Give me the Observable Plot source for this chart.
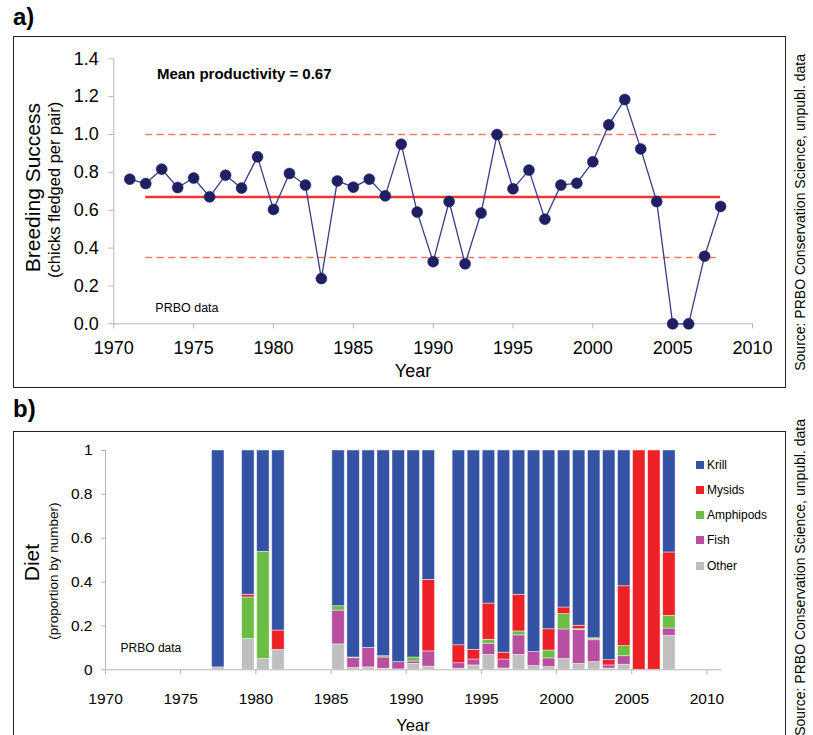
<!DOCTYPE html>
<html>
<head>
<meta charset="utf-8">
<script src="https://cdn.jsdelivr.net/npm/d3@7"></script>
<script src="https://cdn.jsdelivr.net/npm/@observablehq/plot@0.6"></script>
<style>
html, body { margin: 0; padding: 0; background: #fff; overflow: hidden; width: 813px; height: 735px; }
#root { position: relative; width: 813px; height: 735px; font-family: "Liberation Sans", Arial, sans-serif; color: #000; }
.box { position: absolute; border: 1px solid #222; box-sizing: border-box; }
.abs { position: absolute; white-space: nowrap; }
.plabel { position: absolute; font-family: "Liberation Sans Narrow", "Liberation Sans", Arial, sans-serif; font-weight: bold; font-size: 24px; }
.rot { position: absolute; text-align: center; white-space: nowrap; transform: rotate(-90deg); }
.legrow { position: absolute; font-size: 12px; line-height: 14px; white-space: nowrap; }
.legrow span.sw { display: inline-block; width: 8px; height: 8px; margin-right: 3px; vertical-align: 0px; }
svg { position: absolute; overflow: visible; }
</style>
</head>
<body>
<div id="root"></div>
<script>
// ---------- Panel a data: breeding success ----------
const successYears = [1971,1972,1973,1974,1975,1976,1977,1978,1979,1980,1981,1982,1983,1984,1985,1986,1987,1988,1989,1990,1991,1992,1993,1994,1995,1996,1997,1998,1999,2000,2001,2002,2003,2004,2005,2006,2007,2008];
const successValues = [0.764,0.741,0.817,0.720,0.770,0.671,0.785,0.717,0.882,0.604,0.794,0.733,0.239,0.755,0.722,0.764,0.676,0.949,0.590,0.328,0.646,0.317,0.585,1.000,0.713,0.812,0.553,0.733,0.743,0.856,1.051,1.185,0.924,0.646,0.0,0.0,0.357,0.620];
const meanValue = [0.67];
const limitValues = [1.0, 0.35];
const refSpan = [1972, 2008];
const xTicks = [1970,1975,1980,1985,1990,1995,2000,2005,2010];
const yTicksA = [0,0.2,0.4,0.6,0.8,1.0,1.2,1.4];
const meanText = ["Mean productivity = 0.67"];
const meanTextPos = [1972.7, 1.317];
const sourceNotePosA = [1972.6, 0.086];

// ---------- Panel b data: diet (proportion by number) ----------
const dietYears = [1977,1979,1980,1981,1985,1986,1987,1988,1989,1990,1991,1993,1994,1995,1996,1997,1998,1999,2000,2001,2002,2003,2004,2005,2006,2007];
const krill     = [0.989,0.658,0.462,0.821,0.710,0.944,0.900,0.938,0.965,0.944,0.590,0.888,0.909,0.698,0.922,0.658,0.919,0.815,0.716,0.799,0.856,0.956,0.619,0,0,0.465];
const mysids    = [0,0.012,0,0.088,0,0,0,0,0,0,0.326,0.082,0.044,0.165,0.031,0.167,0,0.097,0.030,0.016,0.003,0.024,0.273,1,1,0.289];
const amphipods = [0,0.190,0.489,0,0.020,0.003,0,0.006,0,0.018,0,0,0,0.018,0,0.018,0,0.036,0.070,0.004,0.006,0,0.046,0,0,0.058];
const fish      = [0,0,0,0,0.154,0.045,0.089,0.051,0.033,0.011,0.070,0.025,0.027,0.051,0.041,0.089,0.064,0.040,0.135,0.154,0.100,0.014,0.039,0,0,0.033];
const other     = [0.011,0.140,0.049,0.091,0.116,0.008,0.011,0.005,0.002,0.027,0.014,0.005,0.020,0.068,0.006,0.068,0.017,0.012,0.049,0.027,0.035,0.006,0.023,0,0,0.155];
const dietTypes  = ["Krill","Mysids","Amphipods","Fish","Other"];
const dietColors = ["#3553a4","#ee2127","#6abd45","#b84f9f","#bfbfbf"];
const yTicksB = [0,0.2,0.4,0.6,0.8,1];
const sourceNotePosB = [1971.0, 0.097];

// ---------- tables ----------
const successTable = successYears.map((year, i) => ({year, value: successValues[i]}));
const stackOrder = [["Other", other], ["Fish", fish], ["Amphipods", amphipods], ["Mysids", mysids], ["Krill", krill]];
const dietTable = [];
dietYears.forEach((year, i) => {
  for (const [type, arr] of stackOrder) dietTable.push({year, type, value: arr[i]});
});

const axisGray = "#b5b5b5";
const FONT = "Liberation Sans, Arial, sans-serif";
const root = document.getElementById("root");

function addDiv(cls, html, style) {
  const d = document.createElement("div");
  d.className = cls;
  d.innerHTML = html;
  Object.assign(d.style, style);
  root.appendChild(d);
  return d;
}
function rotText(text, cx, cy, size) {
  const w = 420, h = size * 1.2;
  return addDiv("rot", text, {left: (cx - w/2) + "px", top: (cy - h/2) + "px", width: w + "px", height: h + "px", lineHeight: h + "px", fontSize: size + "px"});
}

// panel labels and boxes
addDiv("plabel", "a)", {left: "13px", top: "3px"});
addDiv("plabel", "b)", {left: "13px", top: "395px"});
addDiv("box", "", {left: "13px", top: "36px", width: "773px", height: "352px"});
addDiv("box", "", {left: "13px", top: "431px", width: "773px", height: "330px"});

// ---------- Panel a ----------
const plotA = Plot.plot({
  width: 772, height: 352,
  marginLeft: 100.3, marginRight: 33, marginTop: 22.3, marginBottom: 64.7,
  style: {fontFamily: FONT, fontSize: "18px", background: "transparent", color: "#000", overflow: "visible"},
  x: {domain: [1970, 2010]},
  y: {domain: [0, 1.4]},
  marks: [
    Plot.ruleY([0], {x1: 1970, x2: 2010, stroke: axisGray, strokeWidth: 1}),
    Plot.ruleX([1970], {y1: 0, y2: 1.4, stroke: axisGray, strokeWidth: 1}),
    Plot.axisX({ticks: xTicks, tickFormat: d3.format("d"), tickSize: 5, tickPadding: 12, stroke: axisGray, fill: "#000", label: null, fontSize: 18}),
    Plot.axisY({ticks: yTicksA, tickFormat: d3.format(".1f"), tickSize: 5, tickPadding: 10, stroke: axisGray, fill: "#000", label: null, fontSize: 18}),
    Plot.ruleY(limitValues, {x1: refSpan[0], x2: refSpan[1], stroke: "#f57a62", strokeWidth: 1.6, strokeDasharray: "7,4.5"}),
    Plot.ruleY(meanValue, {x1: refSpan[0], x2: refSpan[1], stroke: "#ef3535", strokeWidth: 2.6}),
    Plot.line(successTable, {x: "year", y: "value", stroke: "#3a3a8a", strokeWidth: 1.3}),
    Plot.dot(successTable, {x: "year", y: "value", r: 5.5, fill: "#1f2063", stroke: "#1f2063", strokeWidth: 0.5}),
    Plot.text(meanText, {x: meanTextPos[0], y: meanTextPos[1], text: d => d, textAnchor: "start", fontWeight: "bold", fontSize: 15, fill: "#000"}),
    Plot.text(["PRBO data"], {x: sourceNotePosA[0], y: sourceNotePosA[1], text: d => d, textAnchor: "start", fontSize: 12.5, fill: "#000"})
  ]
});
plotA.style.left = "13px"; plotA.style.top = "36px";
root.appendChild(plotA);

addDiv("abs", "Year", {left: "0px", width: "826px", textAlign: "center", top: "361px", fontSize: "18px", lineHeight: "20px"});
rotText("Breeding Success", 33, 188, 21);
rotText("(chicks fledged per pair)", 55, 190, 16.5);
rotText("Source: PRBO Conservation Science, unpubl. data", 800, 212, 14);

// ---------- Panel b ----------
const plotB = Plot.plot({
  width: 772, height: 304,
  marginLeft: 92, marginRight: 63.5, marginTop: 19, marginBottom: 65.7,
  style: {fontFamily: FONT, fontSize: "15px", background: "transparent", color: "#000", overflow: "visible"},
  x: {domain: [1970, 2011]},
  y: {domain: [0, 1]},
  color: {domain: dietTypes, range: dietColors},
  marks: [
    Plot.rectY(dietTable, {x1: "year", x2: d => d.year + 1, y: "value", fill: "type", z: "type", insetLeft: 1.3, insetRight: 1.3, stroke: "#ffffff", strokeOpacity: 0.55, strokeWidth: 0.8}),
    Plot.ruleY([0], {x1: 1970, x2: 2011, stroke: axisGray, strokeWidth: 1}),
    Plot.ruleX([1970], {y1: 0, y2: 1, stroke: axisGray, strokeWidth: 1}),
    Plot.axisX({ticks: xTicks, tickFormat: d3.format("d"), tickSize: 5, tickPadding: 18, stroke: axisGray, fill: "#000", label: null, fontSize: 15.5}),
    Plot.axisY({ticks: yTicksB, tickFormat: d3.format("~g"), tickSize: 4, tickPadding: 9, stroke: axisGray, fill: "#000", label: null, fontSize: 15.5}),
    Plot.text(["PRBO data"], {x: sourceNotePosB[0], y: sourceNotePosB[1], text: d => d, textAnchor: "start", fontSize: 12, fill: "#000"})
  ]
});
plotB.style.left = "13px"; plotB.style.top = "431px";
root.appendChild(plotB);

addDiv("abs", "Year", {left: "0px", width: "826px", textAlign: "center", top: "716px", fontSize: "16.5px", lineHeight: "18px"});
rotText("Diet", 32, 563, 21);
rotText("(proportion by number)", 54, 571, 13.5);
rotText("Source: PRBO Conservation Science, unpubl. data", 800, 577, 14);

// legend (top to bottom: Krill, Mysids, Amphipods, Fish, Other)
const legendTop = [458, 483, 508, 533, 559];
dietTypes.forEach((t, i) => {
  addDiv("legrow", `<span class="sw" style="background:${dietColors[i]}"></span>${t}`, {left: "696px", top: legendTop[i] + "px"});
});
</script>
</body>
</html>
